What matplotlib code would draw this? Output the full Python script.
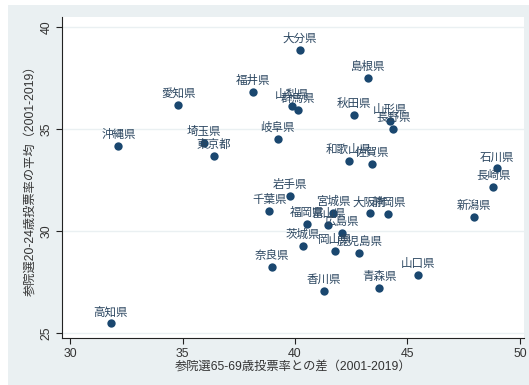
import matplotlib
matplotlib.use("Agg")
import matplotlib.pyplot as plt
from matplotlib.patches import Rectangle

plt.rcParams['font.family'] = ['Liberation Sans', 'Noto Sans CJK JP', 'DejaVu Sans']

prefs = ["大分県", "島根県", "福井県", "愛知県", "山梨県", "群馬県", "秋田県", "山形県",
         "長野県", "沖縄県", "埼玉県", "東京都", "岐阜県", "和歌山県", "佐賀県", "石川県",
         "長崎県", "岩手県", "千葉県", "宮城県", "大阪府", "静岡県", "新潟県", "福岡県",
         "富山県", "広島県", "茨城県", "岡山県", "鹿児島県", "奈良県", "山口県", "青森県",
         "香川県", "高知県"]
gap_65_69 = [40.22, 43.26, 38.15, 34.81, 39.85, 40.15, 42.62, 44.22,
             44.37, 32.15, 35.96, 36.39, 39.23, 42.40, 43.42, 48.96,
             48.81, 39.78, 38.86, 41.70, 43.33, 44.15, 47.97, 40.52,
             41.48, 42.09, 40.34, 41.78, 42.86, 38.98, 45.45, 43.75,
             41.30, 31.81]
turnout_20_24 = [38.87, 37.49, 36.83, 36.18, 36.11, 35.95, 35.69, 35.39,
                 35.00, 34.18, 34.33, 33.66, 34.52, 33.43, 33.28, 33.07,
                 32.17, 31.73, 30.98, 30.90, 30.87, 30.83, 30.70, 30.34,
                 30.29, 29.90, 29.26, 29.03, 28.91, 28.22, 27.84, 27.22,
                 27.06, 25.48]
xticks = [30, 35, 40, 45, 50]
yticks = [25, 30, 35, 40]

W, H = 529, 385
fig = plt.figure(figsize=(W / 100, H / 100), dpi=100, facecolor='white')
fig.patches.append(Rectangle((8 / W, 0), 1 - 8 / W, 1 - 5 / H, transform=fig.transFigure,
                             facecolor='#EAF0F2', edgecolor='none', zorder=-10))
ax = fig.add_axes([62 / W, 47 / H, (524 - 62) / W, (338 - 17) / H])
ax.set_facecolor('white')

navy = '#1A476F'
ax.scatter(gap_65_69, turnout_20_24, s=36, color=navy, zorder=3, linewidths=0)
for name, x, y in zip(prefs, gap_65_69, turnout_20_24):
    ax.annotate(name, (x, y), xytext=(0, 3.5), textcoords='offset points',
                ha='center', va='bottom', fontsize=8.3, color='#2B4660', zorder=4)

ax.set_xlim(29.64, 50.18)
ax.set_ylim(24.75, 40.49)
ax.set_xticks(xticks)
ax.set_yticks(yticks)
ax.set_yticklabels([str(t) for t in yticks], rotation=90, va='center')
ax.grid(axis='y', color='#EAF0F2', linewidth=1.0)
ax.set_axisbelow(True)
for s in ['top', 'right']:
    ax.spines[s].set_visible(False)
for s in ['left', 'bottom']:
    ax.spines[s].set_color('#222222')
    ax.spines[s].set_linewidth(0.8)
ax.tick_params(direction='out', length=4, width=0.8, color='#222222',
               labelsize=8.8, labelcolor='#333333', pad=3)
ax.set_xlabel('参院選65-69歳投票率との差（2001-2019）', fontsize=8.8, color='#333333', labelpad=1)
ax.set_ylabel('参院選20-24歳投票率の平均（2001-2019）', fontsize=8.8, color='#333333', labelpad=3)

fig.savefig('out.png', dpi=100, facecolor=fig.get_facecolor())
